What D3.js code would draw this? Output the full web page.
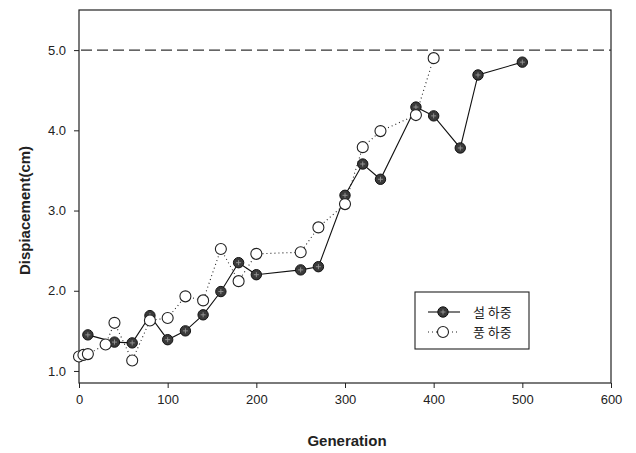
<!DOCTYPE html>
<html>
<head>
<meta charset="utf-8">
<script src="https://cdn.jsdelivr.net/npm/d3@7"></script>
<style>
  body { margin: 0; background: #fff; }
  svg { font-family: "Liberation Sans", Arial, sans-serif; }
</style>
</head>
<body>
<svg id="chart" width="636" height="453"></svg>
<script>
// 설하중 (filled markers, solid line)
const snowGen = [10, 40, 60, 80, 100, 120, 140, 160, 180, 200, 250, 270, 300, 320, 340, 380, 400, 430, 450, 500];
const snowVal = [1.45, 1.36, 1.35, 1.69, 1.39, 1.50, 1.70, 1.99, 2.35, 2.20, 2.26, 2.30, 3.19, 3.58, 3.39, 4.29, 4.18, 3.78, 4.69, 4.85];
// 풍하중 (open markers, dotted line)
const windGen = [0, 5, 10, 30, 40, 60, 80, 100, 120, 140, 160, 180, 200, 250, 270, 300, 320, 340, 380, 400];
const windVal = [1.18, 1.20, 1.21, 1.33, 1.60, 1.13, 1.63, 1.66, 1.93, 1.88, 2.52, 2.12, 2.46, 2.48, 2.79, 3.08, 3.79, 3.99, 4.19, 4.90];
const xTicks = [0, 100, 200, 300, 400, 500, 600];
const yTicks = [1.0, 2.0, 3.0, 4.0, 5.0];
const limit = 5.0;
const legendNames = ["설 하중", "풍 하중"];

const svg = d3.select("#chart");
const mLeft = 79, mRight = 611, mTop = 10, mBottom = 383;

const x = d3.scaleLinear().domain([0, 600]).range([mLeft, mRight]);
const y = d3.scaleLinear().domain([0.85, 5.5]).range([mBottom, mTop]);

// frame
svg.append("rect")
  .attr("x", mLeft).attr("y", mTop)
  .attr("width", mRight - mLeft).attr("height", mBottom - mTop)
  .attr("fill", "none").attr("stroke", "#222").attr("stroke-width", 1.2);

// axes
const xAxis = d3.axisBottom(x).tickValues(xTicks).tickSize(5).tickPadding(7).tickFormat(d3.format("d"));
svg.append("g")
  .attr("transform", `translate(0,${mBottom})`)
  .call(xAxis)
  .call(g => g.select(".domain").remove())
  .selectAll("text").attr("font-size", 13).attr("fill", "#222");

const yAxis = d3.axisLeft(y).tickValues(yTicks).tickSize(5).tickPadding(8).tickFormat(d3.format(".1f"));
svg.append("g")
  .attr("transform", `translate(${mLeft},0)`)
  .call(yAxis)
  .call(g => g.select(".domain").remove())
  .selectAll("text").attr("font-size", 13).attr("fill", "#222");

svg.selectAll(".tick line").attr("stroke", "#222");

// 5.0 limit line
svg.append("line")
  .attr("x1", x(0) + 2).attr("x2", x(600))
  .attr("y1", y(limit)).attr("y2", y(limit))
  .attr("stroke", "#333").attr("stroke-width", 1.2)
  .attr("stroke-dasharray", "11,5");

// lines
const line = d3.line().x(d => x(d[0])).y(d => y(d[1]));
const snow = snowGen.map((g, i) => [g, snowVal[i]]);
const wind = windGen.map((g, i) => [g, windVal[i]]);

svg.append("path").datum(snow).attr("d", line)
  .attr("fill", "none").attr("stroke", "#111").attr("stroke-width", 1.1);
svg.append("path").datum(wind).attr("d", line)
  .attr("fill", "none").attr("stroke", "#222").attr("stroke-width", 1.1)
  .attr("stroke-dasharray", "1,3");

// filled markers
function filledMarker(g, cx, cy) {
  g.append("circle").attr("cx", cx).attr("cy", cy).attr("r", 5.2)
    .attr("fill", "#3a3a3a").attr("stroke", "#111").attr("stroke-width", 1);
  g.append("path")
    .attr("d", `M${cx - 2.5},${cy}H${cx + 2.5}M${cx},${cy - 2.5}V${cy + 2.5}`)
    .attr("stroke", "#999").attr("stroke-width", 0.9);
}
function openMarker(g, cx, cy) {
  g.append("circle").attr("cx", cx).attr("cy", cy).attr("r", 5.5)
    .attr("fill", "#fff").attr("stroke", "#222").attr("stroke-width", 1.1);
}

const gSnow = svg.append("g");
snow.forEach(d => filledMarker(gSnow, x(d[0]), y(d[1])));
const gWind = svg.append("g");
wind.forEach(d => openMarker(gWind, x(d[0]), y(d[1])));

// legend
const lg = svg.append("g");
lg.append("rect").attr("x", 415).attr("y", 292).attr("width", 114).attr("height", 57)
  .attr("fill", "#fff").attr("stroke", "#222").attr("stroke-width", 1.1);
const rows = [312, 332];
lg.append("line").attr("x1", 428).attr("x2", 460).attr("y1", rows[0]).attr("y2", rows[0])
  .attr("stroke", "#111").attr("stroke-width", 1.1);
filledMarker(lg, 443, rows[0]);
lg.append("line").attr("x1", 428).attr("x2", 460).attr("y1", rows[1]).attr("y2", rows[1])
  .attr("stroke", "#222").attr("stroke-width", 1.1).attr("stroke-dasharray", "1,3");
openMarker(lg, 443, rows[1]);
legendNames.forEach((n, i) => {
  lg.append("text").attr("x", 473).attr("y", rows[i] + 5)
    .attr("font-family", "'Noto Sans CJK KR', sans-serif")
    .attr("font-size", 13).attr("fill", "#222").text(n);
});

// axis titles
svg.append("text")
  .attr("x", (mLeft + mRight) / 2 + 2).attr("y", 446)
  .attr("text-anchor", "middle").attr("font-size", 15).attr("font-weight", "bold")
  .attr("fill", "#222").text("Generation");
svg.append("text")
  .attr("transform", `translate(30,${(mTop + mBottom) / 2 + 14}) rotate(-90)`)
  .attr("text-anchor", "middle").attr("font-size", 15).attr("font-weight", "bold")
  .attr("fill", "#222").text("Dispiacement(cm)");
</script>
</body>
</html>
